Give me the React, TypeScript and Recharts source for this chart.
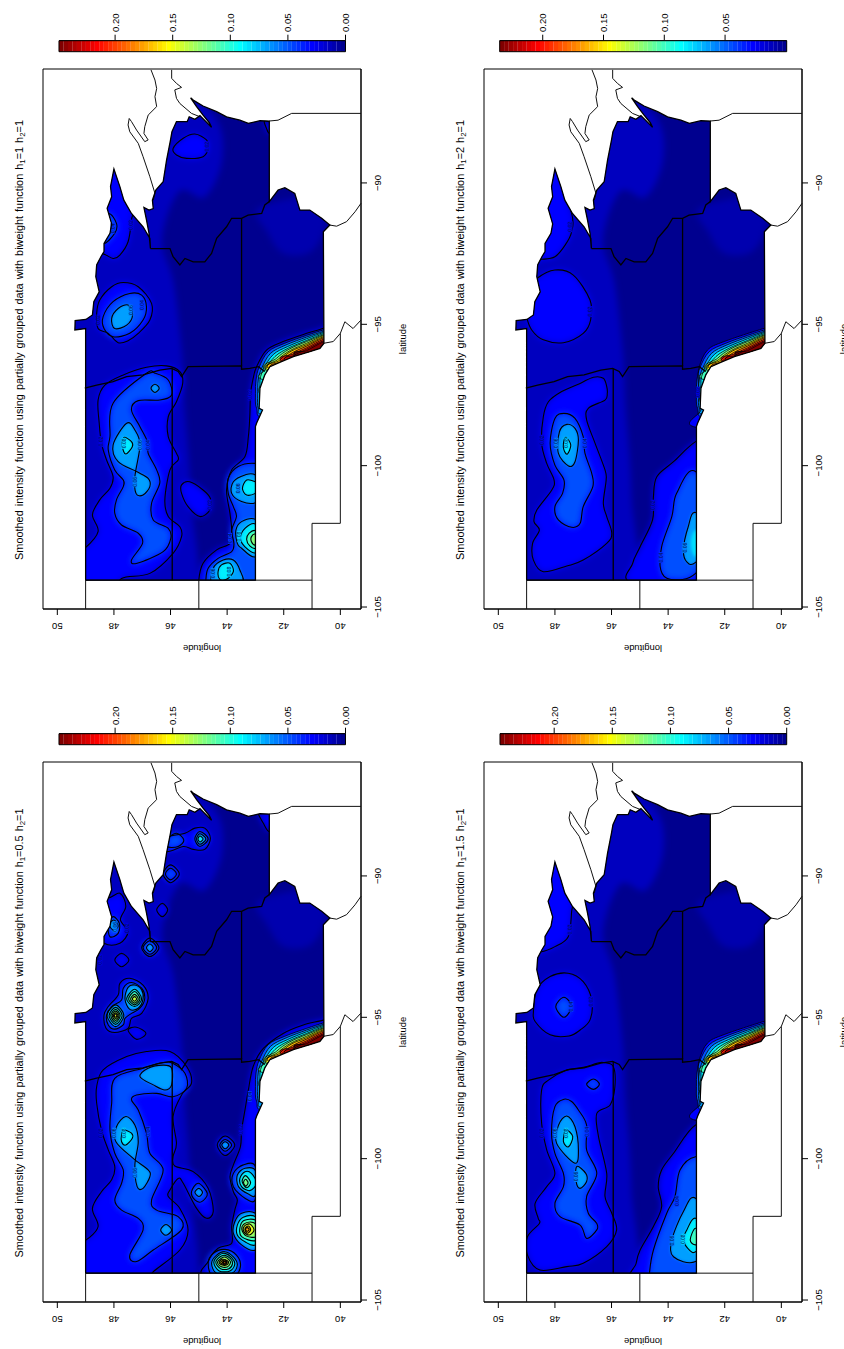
import { ScatterChart, Scatter, XAxis, YAxis, ReferenceArea } from 'recharts'

type Pt = [number, number] // lon, lat
type Contour = { level: number; pts: Pt[]; fillOnly?: boolean }
type CLabel = { lon: number; lat: number; text: string; level: number }

const LAT_TICKS = [50, 48, 46, 44, 42, 40]
const LON_TICKS = [-105, -100, -95, -90]
const LAT_DOMAIN = [39.27, 50.506]
const LON_DOMAIN = [-105.07, -85.97]

const COLORS = [
  '#00008F', '#00009F', '#0000AF', '#0000BF', '#0000CF', '#0000DF', '#0000EF', '#0000FF',
  '#0010FF', '#0020FF', '#0030FF', '#0040FF', '#0050FF', '#0060FF', '#0070FF', '#0080FF',
  '#008FFF', '#009FFF', '#00AFFF', '#00BFFF', '#00CFFF', '#00DFFF', '#00EFFF', '#00FFFF',
  '#10FFEF', '#20FFDF', '#30FFCF', '#40FFBF', '#50FFAF', '#60FF9F', '#70FF8F', '#80FF80',
  '#8FFF70', '#9FFF60', '#AFFF50', '#BFFF40', '#CFFF30', '#DFFF20', '#EFFF10', '#FFFF00',
  '#FFEF00', '#FFDF00', '#FFCF00', '#FFBF00', '#FFAF00', '#FF9F00', '#FF8F00', '#FF8000',
  '#FF7000', '#FF6000', '#FF5000', '#FF4000', '#FF3000', '#FF2000', '#FF1000', '#FF0000',
  '#EF0000', '#DF0000', '#CF0000', '#BF0000', '#AF0000', '#9F0000', '#8F0000', '#800000',
]

// study area outline
const REGION: Pt[] = [
  [-104.05, 49], [-95.15, 49], [-95.2, 49.38], [-94.87, 49.37], [-94.83, 48.99], [-94.67, 48.76], [-94.2, 48.71],
  [-93.85, 48.52], [-93.32, 48.64], [-92.9, 48.61], [-92.61, 48.46], [-92.43, 48.35], [-92.14, 48.35], [-91.78, 48.14],
  [-91.45, 48.08], [-90.9, 48.24], [-90.49, 48.08], [-90.13, 48.12], [-89.51, 48.0], [-90.13, 47.79], [-90.61, 47.65],
  [-91.08, 47.38], [-91.55, 46.97], [-91.96, 46.73], [-92.32, 46.71], [-91.78, 46.76], [-91.31, 46.85], [-90.87, 46.94],
  [-90.96, 46.76], [-90.91, 46.61], [-90.61, 46.64], [-90.25, 46.52], [-89.96, 46.26], [-89.19, 46.14], [-88.48, 46.0],
  [-88.19, 45.95], [-87.83, 45.79], [-87.83, 45.41], [-87.66, 45.34], [-87.75, 45.14], [-87.62, 44.96], [-88.03, 44.55],
  [-87.87, 44.63], [-87.6, 44.85], [-87.3, 45.08], [-86.99, 45.29], [-87.07, 45.2], [-87.28, 44.85], [-87.48, 44.37],
  [-87.66, 44.02], [-87.78, 43.55], [-87.89, 43.25],
  [-87.8, 42.84], [-87.81, 42.51], [-90.66, 42.51], [-90.25, 42.2], [-90.17, 41.96], [-90.37, 41.61], [-90.96, 41.43],
  [-90.96, 41.08], [-91.25, 40.66], [-91.49, 40.37], [-91.73, 40.6], [-95.67, 40.58], [-95.85, 40.72], [-95.97, 41.08],
  [-96.14, 41.66], [-96.32, 42.08], [-96.5, 42.49], [-96.79, 42.67], [-97.26, 42.84], [-97.97, 42.87], [-98.03, 42.75],
  [-98.5, 42.96], [-98.62, 43.0], [-104.05, 43.0], [-104.05, 49],
]

// state borders inside the area
const BORDER_MN_W: Pt[] = [
  [-97.26, 49.03], [-97.15, 48.61], [-97.03, 48.03], [-96.85, 47.55], [-96.79, 46.97], [-96.62, 46.38], [-96.56, 45.96],
  [-96.67, 45.73], [-96.85, 45.61], [-96.5, 45.38], [-96.47, 43.49], [-96.59, 43.49], [-96.56, 43.2], [-96.5, 42.9], [-96.67, 42.67],
]
const BORDER_ND_SD: Pt[] = [[-104.05, 45.94], [-96.56, 45.94]]
const BORDER_MN_IA: Pt[] = [[-96.47, 43.49], [-91.25, 43.49]]
const BORDER_MN_WI: Pt[] = [
  [-92.32, 46.71], [-92.32, 46.02], [-92.61, 45.91], [-92.9, 45.67], [-92.67, 45.49], [-92.79, 45.2], [-92.79, 44.79],
  [-92.49, 44.55], [-91.96, 44.37], [-91.55, 44.02], [-91.25, 43.84], [-91.25, 43.49], [-91.14, 43.26], [-91.08, 42.78],
  [-90.78, 42.67], [-90.66, 42.51],
]

// thin lines outside the area
const LINE_SUPERIOR: Pt[] = [
  [-86.0, 46.69], [-86.36, 46.55], [-86.66, 46.49], [-86.95, 46.55], [-87.3, 46.49], [-87.6, 46.79], [-88.01, 46.91],
  [-88.25, 46.94], [-88.48, 46.79], [-88.54, 46.91], [-88.13, 47.2], [-87.83, 47.38], [-87.72, 47.46], [-87.95, 47.5],
  [-88.19, 47.44], [-88.6, 47.14], [-89.07, 46.97], [-89.78, 46.73], [-90.37, 46.55], [-90.61, 46.61],
]
const LINE_UP: Pt[] = [
  [-86.0, 45.96], [-86.3, 45.96], [-86.48, 45.79], [-86.62, 45.61], [-86.71, 45.85], [-87.01, 45.79], [-87.19, 45.67],
  [-87.54, 45.26], [-87.66, 44.96],
]
const LINE_IL: Pt[] = [[-87.81, 42.51], [-87.78, 42.2], [-87.54, 41.72], [-87.54, 39.27]]
const LINE_MO_E: Pt[] = [[-91.49, 40.37], [-91.53, 40.13], [-91.37, 39.78], [-91.02, 39.48], [-90.72, 39.27]]
const LINE_MO_W: Pt[] = [[-95.67, 40.58], [-95.61, 40.25], [-95.32, 40.0], [-94.91, 39.84], [-95.15, 39.55], [-94.85, 39.27]]
const LINE_LAT40: Pt[] = [[-95.32, 40.0], [-102.04, 40.0], [-102.04, 41.0], [-105.07, 41.0]]
const LINE_LON104: Pt[] = [[-104.05, 49], [-104.05, 41]]
const LINE_LAT45: Pt[] = [[-104.05, 45], [-105.07, 45]]
const LINE_LAT49: Pt[] = [[-104.05, 49], [-105.07, 49]]
const THIN_LINES = [LINE_SUPERIOR, LINE_UP, LINE_IL, LINE_MO_E, LINE_MO_W, LINE_LAT40, LINE_LON104, LINE_LAT45, LINE_LAT49]
const STATE_LINES = [BORDER_MN_W, BORDER_ND_SD, BORDER_MN_IA, BORDER_MN_WI]

// soft background shading, no line
const HALO_N: Contour = {
  level: 0.007, fillOnly: true,
  pts: [[-105, 50], [-105, 45.4], [-101, 45.3], [-98, 45.5], [-96, 45.6], [-93.5, 45.9], [-92, 46.3], [-90.3, 45.7], [-90.5, 44.8],
    [-89.3, 44.2], [-87.9, 44.3], [-87, 45.3], [-87, 47], [-89, 50]],
}
const HALO_IA: Contour = {
  level: 0.003, fillOnly: true,
  pts: [[-90.9, 42.9], [-91.7, 42.6], [-92.5, 42], [-92.4, 41], [-91.3, 40.5], [-90.5, 41]],
}

// steep ridge along the Missouri, the same in all panels
const RIVER_02: Contour = {
  level: 0.02,
  pts: [[-95.14, 40.6], [-95.61, 42.02], [-95.91, 42.61], [-96.5, 42.9], [-96.97, 42.93], [-97.56, 42.9], [-98.03, 42.84], [-98.62, 43.1],
    [-98.74, 40.25], [-94.85, 39.54]],
}
const OUT_A: Pt = [-97.56, 40.25]
const OUT_B: Pt = [-94.85, 39.54]
const RIVER_BANDS: Contour[] = [
  { level: 0.04, pts: [[-95.11, 40.25], [-95.2, 40.6], [-95.39, 41.19], [-95.67, 41.96], [-95.97, 42.55], [-96.52, 42.87], [-96.97, 42.98], [-97.44, 43.0], [-97.97, 42.96], [-98.27, 42.61], OUT_A, OUT_B] },
  { level: 0.06, pts: [[-95.14, 40.25], [-95.25, 40.6], [-95.45, 41.19], [-95.73, 41.92], [-96.03, 42.47], [-96.56, 42.78], [-96.97, 42.9], [-97.5, 42.92], [-97.97, 42.9], [-98.15, 42.61], OUT_A, OUT_B] },
  { level: 0.08, pts: [[-95.2, 40.25], [-95.29, 40.6], [-95.51, 41.19], [-95.79, 41.87], [-96.07, 42.37], [-96.59, 42.72], [-97.09, 42.84], [-97.56, 42.61], OUT_A, OUT_B] },
  { level: 0.1, pts: [[-95.24, 40.25], [-95.33, 40.6], [-95.57, 41.19], [-95.84, 41.83], [-96.14, 42.31], [-96.62, 42.67], [-96.97, 42.72], OUT_A, OUT_B] },
  { level: 0.12, pts: [[-95.27, 40.25], [-95.37, 40.6], [-95.61, 41.19], [-95.88, 41.81], [-96.2, 42.25], [-96.64, 42.61], OUT_A, OUT_B] },
  { level: 0.14, pts: [[-95.31, 40.25], [-95.4, 40.6], [-95.67, 41.19], [-95.92, 41.76], [-96.24, 42.2], [-96.64, 42.54], OUT_A, OUT_B] },
  { level: 0.16, pts: [[-95.34, 40.25], [-95.44, 40.6], [-95.72, 41.19], [-95.95, 41.74], [-96.28, 42.16], [-96.59, 42.49], OUT_A, OUT_B] },
  { level: 0.18, pts: [[-95.39, 40.25], [-95.48, 40.6], [-95.77, 41.19], [-96.0, 41.69], [-96.32, 42.11], [-96.59, 42.37], OUT_A, OUT_B] },
  { level: 0.2, pts: [[-95.44, 40.25], [-95.53, 40.6], [-95.83, 41.19], [-96.05, 41.66], [-96.33, 42.07], OUT_A, OUT_B] },
  { level: 0.22, pts: [[-95.48, 40.25], [-95.58, 40.6], [-95.88, 41.19], [-96.1, 41.64], [-96.33, 41.9], OUT_A, OUT_B] },
  { level: 0.24, pts: [[-95.53, 40.25], [-95.62, 40.6], [-95.93, 41.19], [-96.14, 41.61], OUT_A, OUT_B] },
]

// h1=1
const CONTOURS_H1: Contour[] = [
  { level: 0.02, pts: [[-102.92, 49.03], [-102.33, 48.56], [-101.74, 48.76], [-101.21, 48.5], [-100.8, 48.14], [-100.39, 48.03], [-99.8, 48.26], [-99.21, 48.44], [-98.5, 48.52], [-97.68, 48.56], [-97.15, 48.32], [-96.79, 47.67], [-96.52, 46.85], [-96.47, 46.14], [-96.67, 45.67], [-97.09, 45.57], [-97.74, 45.79], [-98.27, 46.08], [-98.97, 46.08], [-99.56, 45.79], [-99.8, 45.73], [-100.15, 46.02], [-101.21, 46.2], [-101.8, 46.08], [-102.16, 45.67], [-102.51, 45.61], [-103.1, 45.91], [-103.81, 46.73], [-103.99, 47.73], [-104.52, 48.03], [-104.52, 49.32], [-103.0, 49.32]] },
  { level: 0.02, pts: [[-100.68, 45.61], [-100.57, 45.32], [-100.86, 44.85], [-101.16, 44.59], [-101.57, 44.61], [-101.8, 44.96], [-101.45, 45.38], [-100.98, 45.61]] },
  { level: 0.02, pts: [[-95.14, 40.6], [-95.32, 41.19], [-95.61, 42.02], [-95.91, 42.61], [-96.5, 42.96], [-96.91, 43.08], [-97.44, 43.17], [-98.27, 43.2], [-98.97, 43.25], [-99.68, 43.37], [-100.15, 43.84], [-100.86, 44.02], [-101.69, 43.9], [-102.28, 43.84], [-102.75, 43.9], [-102.98, 44.37], [-103.45, 44.85], [-104.04, 45.0], [-104.63, 44.96], [-104.63, 42.02], [-99.92, 39.66], [-94.96, 39.66], [-94.9, 40.25]] },
  { level: 0.02, pts: [[-94.14, 48.5], [-93.67, 48.08], [-93.52, 47.67], [-93.67, 47.14], [-94.26, 46.67], [-94.85, 46.73], [-95.32, 47.14], [-95.58, 47.5], [-95.65, 47.85], [-95.32, 48.2], [-95.15, 48.56], [-94.62, 48.61]] },
  { level: 0.02, pts: [[-91.31, 47.38], [-92.08, 47.5], [-92.55, 47.79], [-92.67, 48.03], [-92.49, 48.44], [-92.49, 49.08], [-89.43, 49.08], [-89.43, 48.03], [-90.84, 47.38]] },
  { level: 0.02, pts: [[-88.78, 45.91], [-88.42, 45.55], [-88.27, 45.14], [-88.48, 44.73], [-88.78, 44.67], [-89.07, 44.85], [-89.13, 45.43], [-89.01, 45.79]] },
  { level: 0.02, pts: [[-87.8, 42.67], [-88.07, 42.61], [-88.25, 42.49], [-88.0, 42.25]] },
  { level: 0.04, pts: [[-96.73, 46.85], [-97.79, 48.03], [-98.97, 48.14], [-99.45, 48.2], [-100.15, 47.97], [-100.51, 47.67], [-100.74, 47.67], [-101.21, 47.91], [-101.69, 47.97], [-102.1, 47.73], [-102.39, 47.14], [-102.75, 46.99], [-103.34, 47.38], [-103.45, 47.18], [-103.04, 46.26], [-102.57, 45.99], [-102.22, 46.08], [-101.92, 46.61], [-101.33, 46.67], [-100.62, 46.38], [-100.15, 46.49], [-99.56, 46.79], [-99.21, 46.79], [-98.62, 47.08], [-98.03, 47.38], [-97.7, 47.14], [-97.68, 46.38], [-97.5, 45.96], [-96.97, 46.08], [-96.73, 46.55]] },
  { level: 0.04, pts: [[-104.04, 44.75], [-103.63, 44.67], [-103.28, 44.32], [-103.04, 43.84], [-102.75, 43.76], [-102.28, 43.84], [-101.8, 43.67], [-101.45, 43.78], [-100.98, 43.96], [-100.45, 43.96], [-100.03, 43.61], [-99.92, 43.0], [-100.15, 42.25], [-104.63, 42.25], [-104.63, 44.73]] },
  { level: 0.04, pts: [[-94.73, 48.38], [-94.2, 48.03], [-93.91, 47.44], [-93.97, 47.02], [-94.38, 46.85], [-94.85, 46.97], [-95.32, 47.44], [-95.44, 48.03], [-95.15, 48.35]] },
  { level: 0.04, pts: [[-91.78, 47.97], [-91.43, 47.91], [-91.08, 48.2], [-91.55, 48.61], [-92.14, 48.38]] },
  { level: 0.06, pts: [[-98.5, 47.55], [-99.27, 48.03], [-99.86, 47.85], [-100.21, 47.2], [-100.45, 46.79], [-100.74, 46.73], [-101.04, 46.97], [-100.98, 47.22], [-100.39, 47.26], [-99.27, 47.08], [-98.74, 47.26]] },
  { level: 0.06, pts: [[-97.26, 46.69], [-97.12, 46.55], [-97.26, 46.4], [-97.41, 46.55]] },
  { level: 0.06, pts: [[-100.33, 43.0], [-100.33, 43.37], [-100.57, 43.78], [-100.98, 43.84], [-101.27, 43.49], [-101.31, 43.0], [-100.86, 42.49]] },
  { level: 0.06, pts: [[-101.9, 43.0], [-101.98, 43.49], [-102.28, 43.69], [-102.75, 43.64], [-102.92, 43.49], [-103.22, 43.0], [-102.51, 42.49]] },
  { level: 0.06, pts: [[-103.63, 44.49], [-103.34, 44.14], [-103.34, 43.78], [-103.69, 43.55], [-104.16, 43.49], [-104.28, 44.49]] },
  { level: 0.06, pts: [[-94.79, 48.08], [-94.44, 47.85], [-94.32, 47.5], [-94.67, 47.34], [-95.03, 47.55], [-95.15, 47.97]] },
  { level: 0.08, pts: [[-99.0, 47.65], [-99.15, 47.38], [-99.33, 47.35], [-99.59, 47.58], [-99.33, 47.7]] },
  { level: 0.08, pts: [[-100.57, 43.0], [-100.51, 43.31], [-100.8, 43.46], [-101.04, 43.31], [-100.98, 43.0], [-100.74, 42.72]] },
  { level: 0.08, pts: [[-102.06, 43.0], [-102.22, 43.37], [-102.57, 43.53], [-102.87, 43.37], [-103.08, 43.0], [-102.57, 42.61]] },
  { level: 0.08, pts: [[-103.75, 44.32], [-103.51, 44.2], [-103.45, 43.9], [-103.75, 43.78], [-104.02, 44.02], [-104.02, 44.26]] },
  { level: 0.1, pts: [[-102.3, 43.0], [-102.39, 43.22], [-102.61, 43.31], [-102.84, 43.2], [-102.92, 43.0], [-102.63, 42.72]] },
  { level: 0.12, pts: [[-102.42, 43.0], [-102.51, 43.14], [-102.69, 43.14], [-102.81, 43.0], [-102.63, 42.78]] },
]
const LABELS_H1: CLabel[] = [
  { lon: -99.15, lat: 48.46, text: '0.02', level: 0.02 }, { lon: -99.27, lat: 46.79, text: '0.04', level: 0.04 },
  { lon: -99.27, lat: 47.08, text: '0.06', level: 0.06 }, { lon: -99.21, lat: 47.65, text: '0.08', level: 0.08 },
  { lon: -100.57, lat: 47.26, text: '0.06', level: 0.06 }, { lon: -101.39, lat: 44.61, text: '0.02', level: 0.02 },
  { lon: -100.8, lat: 43.61, text: '0.06', level: 0.06 }, { lon: -102.57, lat: 43.9, text: '0.04', level: 0.04 },
  { lon: -102.51, lat: 43.57, text: '0.08', level: 0.08 }, { lon: -103.75, lat: 43.93, text: '0.08', level: 0.08 },
  { lon: -103.81, lat: 44.51, text: '0.06', level: 0.06 }, { lon: -94.85, lat: 48.55, text: '0.02', level: 0.02 },
  { lon: -94.32, lat: 47.02, text: '0.04', level: 0.04 }, { lon: -94.5, lat: 47.41, text: '0.06', level: 0.06 },
  { lon: -91.49, lat: 47.38, text: '0.02', level: 0.02 }, { lon: -91.61, lat: 48.05, text: '0.04', level: 0.04 },
  { lon: -88.72, lat: 44.7, text: '0.02', level: 0.02 }, { lon: -97.5, lat: 43.2, text: '0.02', level: 0.02 },
]

// h1=2
const CONTOURS_H2: Contour[] = [
  { level: 0.035, fillOnly: true, pts: [[-94.03, 47.76], [-94.5, 47.23], [-95.03, 47.76], [-94.5, 48.29]] },
  { level: 0.02, pts: [[-97.2, 46.17], [-96.91, 46.29], [-96.87, 46.64], [-97.09, 47.11], [-97.38, 47.76], [-97.74, 48.23], [-98.27, 48.41], [-99.21, 48.47], [-99.92, 48.29], [-100.51, 48.03], [-100.86, 48.11], [-101.57, 48.64], [-101.98, 48.74], [-102.28, 48.55], [-102.75, 48.79], [-103.34, 48.76], [-103.75, 48.41], [-103.55, 47.58], [-103.34, 47.0], [-102.75, 46.17], [-102.39, 45.99], [-101.8, 46.17], [-101.33, 46.29], [-100.51, 46.19], [-100.15, 46.23], [-99.21, 46.58], [-98.38, 46.88], [-97.97, 46.82], [-97.68, 46.23], [-97.44, 46.15]] },
  { level: 0.02, pts: [[-99.15, 43.03], [-99.86, 43.81], [-100.39, 44.4], [-101.1, 44.52], [-101.92, 44.55], [-102.87, 44.99], [-103.45, 45.25], [-104.16, 45.25], [-104.4, 42.05], [-98.74, 42.05]] },
  { level: 0.02, pts: [[-93.38, 48.64], [-93.08, 48.0], [-93.26, 47.35], [-94.14, 46.76], [-94.85, 46.74], [-95.32, 47.0], [-95.65, 47.7], [-95.55, 48.41], [-95.2, 48.82], [-94.73, 49.0], [-93.91, 49.1]] },
  { level: 0.02, pts: [[-91.73, 47.41], [-92.2, 47.64], [-92.61, 48.0], [-92.7, 48.47], [-92.7, 49.1], [-89.43, 49.1], [-89.43, 48.05], [-91.08, 47.41]] },
  { level: 0.04, pts: [[-98.15, 47.68], [-98.33, 48.0], [-99.21, 48.17], [-99.98, 48.0], [-100.51, 47.68], [-100.98, 47.73], [-101.45, 48.0], [-101.92, 47.88], [-102.18, 47.41], [-102.04, 47.11], [-101.45, 47.0], [-100.74, 46.66], [-100.27, 46.7], [-99.56, 46.94], [-98.97, 47.0], [-98.33, 47.29]] },
  { level: 0.04, pts: [[-100.21, 43.03], [-100.98, 43.7], [-101.8, 43.87], [-102.87, 44.23], [-103.69, 44.26], [-104.02, 43.93], [-103.81, 43.03], [-102.28, 42.05]] },
  { level: 0.06, pts: [[-98.54, 47.58], [-98.8, 47.84], [-99.56, 47.88], [-100.01, 47.52], [-99.86, 47.29], [-99.09, 47.17], [-98.68, 47.29]] },
  { level: 0.06, pts: [[-101.66, 43.03], [-102.16, 43.29], [-102.98, 43.46], [-103.4, 43.34], [-103.42, 43.03], [-102.51, 42.28]] },
  { level: 0.075, fillOnly: true, pts: [[-102.28, 43.03], [-102.75, 43.2], [-103.22, 43.03], [-102.75, 42.63]] },
  { level: 0.08, pts: [[-99.0, 47.61], [-99.27, 47.44], [-99.59, 47.56], [-99.45, 47.68], [-99.21, 47.7]] },
]
const LABELS_H2: CLabel[] = [
  { lon: -99.1, lat: 48.45, text: '0.02', level: 0.02 }, { lon: -99.21, lat: 47.95, text: '0.06', level: 0.06 },
  { lon: -99.2, lat: 47.6, text: '0.08', level: 0.08 }, { lon: -99.21, lat: 46.95, text: '0.04', level: 0.04 },
  { lon: -101.4, lat: 44.54, text: '0.02', level: 0.02 }, { lon: -103.25, lat: 44.25, text: '0.04', level: 0.04 },
  { lon: -102.9, lat: 43.42, text: '0.06', level: 0.06 }, { lon: -94.55, lat: 46.75, text: '0.02', level: 0.02 },
  { lon: -91.55, lat: 47.45, text: '0.02', level: 0.02 }, { lon: -97.4, lat: 42.95, text: '0.02', level: 0.02 },
]

// h1=0.5
const CONTOURS_H05: Contour[] = [
  { level: 0.02, pts: [[-102.88, 48.99], [-102.4, 48.56], [-101.76, 48.76], [-101.17, 48.44], [-100.75, 48.08], [-100.28, 47.97], [-99.69, 48.2], [-98.99, 48.44], [-98.04, 48.61], [-97.45, 48.61], [-96.86, 48.38], [-96.39, 47.55], [-96.21, 46.85], [-96.21, 46.02], [-96.74, 45.43], [-97.33, 45.26], [-97.75, 45.61], [-98.51, 45.91], [-99.46, 45.79], [-99.93, 45.91], [-100.26, 45.85], [-100.46, 45.2], [-101.05, 44.67], [-101.87, 44.49], [-102.11, 44.73], [-101.76, 45.08], [-100.87, 45.55], [-100.7, 45.73], [-101.11, 46.02], [-101.34, 46.08], [-101.76, 45.67], [-102.52, 45.38], [-103.23, 45.67], [-104.0, 46.61], [-104.29, 46.85], [-104.29, 49.32], [-102.88, 49.32]] },
  { level: 0.02, pts: [[-95.09, 40.58], [-95.27, 41.31], [-95.57, 42.02], [-96.1, 42.72], [-96.74, 43.08], [-97.57, 43.25], [-98.28, 43.37], [-98.99, 43.49], [-99.57, 43.53], [-100.22, 43.78], [-100.64, 43.9], [-101.17, 43.78], [-101.46, 43.64], [-101.82, 43.73], [-102.4, 43.84], [-102.99, 43.84], [-103.17, 44.32], [-103.64, 44.67], [-104.17, 44.73], [-104.41, 42.02], [-99.92, 39.66], [-94.96, 39.66], [-94.9, 40.25]] },
  { level: 0.02, pts: [[-99.52, 44.35], [-99.2, 44.07], [-99.52, 43.73], [-99.89, 44.07]] },
  { level: 0.02, pts: [[-94.92, 48.35], [-94.62, 48.2], [-94.21, 47.85], [-93.8, 47.79], [-93.62, 47.44], [-93.86, 46.97], [-94.33, 46.79], [-94.86, 47.02], [-95.04, 47.38], [-95.39, 47.5], [-95.54, 47.97], [-95.39, 48.28]] },
  { level: 0.02, pts: [[-92.97, 47.97], [-92.74, 47.73], [-92.97, 47.47], [-93.21, 47.73]] },
  { level: 0.02, pts: [[-95.45, 47.5], [-95.35, 47.2], [-95.57, 46.87], [-95.78, 47.2]] },
  { level: 0.02, pts: [[-92.54, 47.02], [-92.2, 46.73], [-92.54, 46.41], [-92.85, 46.73]] },
  { level: 0.02, pts: [[-90.79, 48.24], [-90.61, 47.79], [-91.07, 47.58], [-91.55, 47.77], [-91.97, 47.5], [-92.38, 47.79], [-92.38, 48.35], [-91.67, 49.08], [-90.73, 49.08]] },
  { level: 0.02, pts: [[-88.61, 46.08], [-88.49, 45.49], [-88.31, 45.14], [-88.31, 44.79], [-88.67, 44.59], [-89.06, 44.79], [-89.06, 45.2], [-88.96, 45.55], [-89.14, 46.14], [-88.84, 46.49]] },
  { level: 0.02, pts: [[-89.93, 46.26], [-89.61, 46.0], [-89.93, 45.69], [-90.24, 46.0]] },
  { level: 0.02, pts: [[-91.2, 46.49], [-90.97, 46.29], [-91.2, 46.1], [-91.44, 46.29]] },
  { level: 0.02, pts: [[-87.69, 42.9], [-88.14, 42.72], [-88.43, 42.49], [-87.9, 42.25]] },
  { level: 0.04, pts: [[-96.8, 46.97], [-97.16, 47.97], [-98.04, 48.08], [-98.99, 48.14], [-99.81, 47.97], [-100.4, 47.67], [-100.87, 47.73], [-101.46, 47.97], [-101.82, 47.73], [-102.11, 47.14], [-102.52, 46.97], [-103.41, 47.44], [-103.64, 47.2], [-103.23, 46.61], [-102.52, 45.61], [-102.05, 45.73], [-101.82, 46.49], [-101.46, 46.67], [-100.4, 46.26], [-99.81, 46.73], [-99.1, 46.85], [-98.28, 47.14], [-97.92, 47.38], [-97.75, 47.2], [-97.69, 46.49], [-97.81, 45.91], [-97.51, 45.43], [-96.98, 45.49], [-96.63, 45.91], [-96.6, 46.26]] },
  { level: 0.04, pts: [[-101.17, 45.26], [-100.87, 45.02], [-101.23, 44.7], [-101.52, 44.9], [-101.46, 45.14]] },
  { level: 0.04, pts: [[-99.52, 44.26], [-99.32, 44.07], [-99.52, 43.84], [-99.74, 44.07]] },
  { level: 0.04, pts: [[-100.28, 43.0], [-100.22, 43.43], [-100.52, 43.78], [-100.99, 43.78], [-101.4, 43.37], [-101.44, 43.0]] },
  { level: 0.04, pts: [[-103.7, 44.67], [-103.35, 44.49], [-103.21, 44.08], [-103.41, 43.67], [-103.82, 43.53], [-104.17, 43.78], [-104.17, 44.49]] },
  { level: 0.04, pts: [[-94.92, 48.26], [-94.62, 48.08], [-94.39, 47.73], [-93.97, 47.67], [-93.77, 47.38], [-93.97, 47.02], [-94.33, 46.91], [-94.68, 47.08], [-94.86, 47.38], [-95.04, 47.61], [-95.27, 47.67], [-95.42, 47.97], [-95.27, 48.2]] },
  { level: 0.04, pts: [[-92.54, 46.97], [-92.29, 46.73], [-92.54, 46.49], [-92.77, 46.73]] },
  { level: 0.04, pts: [[-91.73, 48.2], [-91.44, 48.03], [-91.67, 47.81], [-92.03, 47.85], [-92.15, 48.14]] },
  { level: 0.04, pts: [[-88.69, 45.14], [-88.43, 44.96], [-88.69, 44.67], [-88.96, 44.96]] },
  { level: 0.04, pts: [[-88.67, 46.08], [-88.49, 45.79], [-88.73, 45.53], [-88.96, 45.73], [-88.96, 46.14]] },
  { level: 0.04, pts: [[-89.93, 46.18], [-89.73, 46.0], [-89.93, 45.79], [-90.14, 46.0]] },
  { level: 0.06, pts: [[-98.51, 47.58], [-98.87, 47.91], [-99.4, 47.93], [-99.99, 47.32], [-100.4, 46.79], [-100.64, 46.73], [-101.05, 46.97], [-100.99, 47.18], [-100.22, 47.26], [-99.4, 47.14], [-98.81, 47.26]] },
  { level: 0.06, pts: [[-97.1, 47.08], [-96.8, 46.79], [-96.69, 46.26], [-96.8, 45.96], [-97.39, 45.96], [-97.57, 46.2], [-97.39, 46.61]] },
  { level: 0.06, pts: [[-102.52, 46.35], [-102.33, 46.16], [-102.52, 45.96], [-102.71, 46.16]] },
  { level: 0.06, pts: [[-101.19, 45.14], [-101.05, 45.0], [-101.2, 44.87], [-101.34, 45.0]] },
  { level: 0.06, pts: [[-99.52, 44.19], [-99.4, 44.07], [-99.52, 43.94], [-99.65, 44.07]] },
  { level: 0.06, pts: [[-100.43, 43.0], [-100.34, 43.37], [-100.58, 43.64], [-100.99, 43.6], [-101.25, 43.25], [-101.28, 43.0]] },
  { level: 0.06, pts: [[-101.93, 43.0], [-101.93, 43.49], [-102.23, 43.73], [-102.64, 43.78], [-103.05, 43.49], [-103.23, 43.0], [-102.52, 42.49]] },
  { level: 0.06, pts: [[-103.7, 44.55], [-103.41, 44.37], [-103.29, 44.08], [-103.47, 43.78], [-103.76, 43.64], [-104.06, 43.84], [-104.06, 44.37]] },
  { level: 0.06, pts: [[-94.35, 47.61], [-93.94, 47.5], [-93.86, 47.26], [-94.03, 47.02], [-94.35, 46.97], [-94.68, 47.14], [-94.72, 47.44]] },
  { level: 0.06, pts: [[-94.94, 48.24], [-94.56, 47.94], [-94.94, 47.65], [-95.33, 47.94]] },
  { level: 0.06, pts: [[-92.54, 46.85], [-92.41, 46.73], [-92.54, 46.61], [-92.68, 46.73]] },
  { level: 0.06, pts: [[-91.73, 48.17], [-91.56, 48.0], [-91.77, 47.85], [-91.93, 48.0]] },
  { level: 0.06, pts: [[-88.69, 45.08], [-88.51, 44.96], [-88.69, 44.75], [-88.88, 44.96]] },
  { level: 0.08, pts: [[-98.99, 47.65], [-99.1, 47.38], [-99.28, 47.35], [-99.52, 47.58], [-99.4, 47.73], [-99.16, 47.73]] },
  { level: 0.08, pts: [[-100.46, 43.37], [-100.7, 43.55], [-100.99, 43.49], [-101.13, 43.2], [-100.87, 42.96], [-100.52, 43.14]] },
  { level: 0.08, pts: [[-102.05, 43.0], [-102.07, 43.43], [-102.35, 43.64], [-102.7, 43.64], [-102.94, 43.37], [-103.05, 43.0], [-102.52, 42.61]] },
  { level: 0.08, pts: [[-103.68, 44.47], [-103.44, 44.32], [-103.35, 44.08], [-103.5, 43.84], [-103.73, 43.73], [-103.97, 43.9], [-103.97, 44.28]] },
  { level: 0.08, pts: [[-94.35, 47.55], [-94.01, 47.27], [-94.35, 47.02], [-94.62, 47.27]] },
  { level: 0.08, pts: [[-94.94, 48.17], [-94.65, 47.94], [-94.94, 47.71], [-95.25, 47.94]] },
  { level: 0.08, pts: [[-88.69, 45.03], [-88.59, 44.96], [-88.69, 44.85], [-88.8, 44.96]] },
  { level: 0.1, fillOnly: true, pts: [[-88.69, 45.0], [-88.63, 44.96], [-88.69, 44.9], [-88.75, 44.96]] },
  { level: 0.1, pts: [[-100.6, 43.35], [-100.81, 43.47], [-101.03, 43.31], [-100.84, 43.17]] },
  { level: 0.1, pts: [[-102.17, 43.0], [-102.19, 43.41], [-102.46, 43.55], [-102.76, 43.49], [-102.9, 43.0], [-102.52, 42.72]] },
  { level: 0.1, pts: [[-103.67, 44.4], [-103.48, 44.26], [-103.42, 44.08], [-103.54, 43.88], [-103.71, 43.81], [-103.89, 43.94], [-103.89, 44.23]] },
  { level: 0.1, pts: [[-94.35, 47.48], [-94.09, 47.27], [-94.35, 47.08], [-94.56, 47.27]] },
  { level: 0.1, pts: [[-94.94, 48.11], [-94.72, 47.94], [-94.94, 47.78], [-95.18, 47.94]] },
  { level: 0.12, pts: [[-100.73, 43.35], [-100.85, 43.42], [-100.97, 43.34], [-100.85, 43.26]] },
  { level: 0.12, pts: [[-102.26, 43.08], [-102.29, 43.37], [-102.5, 43.48], [-102.74, 43.31], [-102.76, 42.96], [-102.46, 42.9]] },
  { level: 0.12, pts: [[-103.67, 44.34], [-103.52, 44.2], [-103.48, 44.08], [-103.58, 43.93], [-103.68, 43.88], [-103.82, 43.98], [-103.82, 44.2]] },
  { level: 0.12, pts: [[-94.35, 47.41], [-94.19, 47.27], [-94.35, 47.14], [-94.5, 47.27]] },
  { level: 0.12, pts: [[-94.94, 48.06], [-94.78, 47.94], [-94.94, 47.82], [-95.11, 47.94]] },
  { level: 0.14, pts: [[-102.31, 43.2], [-102.4, 43.4], [-102.58, 43.41], [-102.7, 43.22], [-102.52, 43.05]] },
  { level: 0.14, pts: [[-103.67, 44.28], [-103.56, 44.17], [-103.61, 43.99], [-103.68, 43.95], [-103.76, 44.02], [-103.76, 44.17]] },
  { level: 0.14, pts: [[-94.35, 47.35], [-94.27, 47.27], [-94.35, 47.2], [-94.43, 47.27]] },
  { level: 0.14, pts: [[-94.94, 48.02], [-94.84, 47.94], [-94.94, 47.86], [-95.05, 47.94]] },
  { level: 0.16, pts: [[-102.38, 43.25], [-102.49, 43.37], [-102.64, 43.29], [-102.52, 43.17]] },
  { level: 0.16, pts: [[-103.67, 44.23], [-103.58, 44.08], [-103.67, 44.0], [-103.76, 44.08]] },
  { level: 0.16, pts: [[-94.94, 47.99], [-94.88, 47.94], [-94.94, 47.9], [-95.0, 47.94]] },
  { level: 0.18, pts: [[-102.44, 43.29], [-102.5, 43.35], [-102.57, 43.29], [-102.5, 43.22]] },
  { level: 0.18, pts: [[-103.67, 44.17], [-103.62, 44.08], [-103.67, 44.02], [-103.73, 44.08]] },
  { level: 0.2, pts: [[-103.67, 44.14], [-103.64, 44.08], [-103.67, 44.04], [-103.7, 44.08]] },
]
const LABELS_H05: CLabel[] = [
  { lon: -99.1, lat: 48.46, text: '0.02', level: 0.02 }, { lon: -99.05, lat: 46.78, text: '0.04', level: 0.04 },
  { lon: -99.1, lat: 47.99, text: '0.06', level: 0.06 }, { lon: -99.1, lat: 47.65, text: '0.08', level: 0.08 },
  { lon: -100.5, lat: 47.25, text: '0.06', level: 0.06 }, { lon: -98.98, lat: 43.52, text: '0.02', level: 0.02 },
  { lon: -97.8, lat: 43.2, text: '0.04', level: 0.04 }, { lon: -91.8, lat: 47.95, text: '0.06', level: 0.06 },
  { lon: -92.97, lat: 48.48, text: '0.02', level: 0.02 }, { lon: -91.85, lat: 47.55, text: '0.02', level: 0.02 },
]

// h1=1.5
const CONTOURS_H15: Contour[] = [
  { level: 0.02, pts: [[-96.63, 46.52], [-96.77, 47.0], [-96.89, 47.64], [-97.22, 48.23], [-97.57, 48.47], [-98.75, 48.47], [-99.69, 48.29], [-100.52, 48.0], [-100.99, 48.29], [-101.58, 48.7], [-102.11, 48.59], [-102.29, 48.55], [-102.76, 48.97], [-103.41, 48.97], [-103.94, 48.53], [-103.82, 47.58], [-103.7, 47.0], [-103.11, 46.17], [-102.52, 45.82], [-101.93, 45.99], [-101.34, 46.23], [-100.52, 46.17], [-99.22, 46.46], [-98.4, 46.52], [-98.1, 46.05], [-97.45, 45.88], [-96.74, 45.94], [-96.6, 46.29]] },
  { level: 0.02, pts: [[-98.81, 43.03], [-99.81, 43.81], [-100.4, 44.23], [-100.99, 44.35], [-101.7, 44.23], [-102.4, 44.52], [-103.23, 44.99], [-103.7, 45.13], [-104.4, 45.17], [-104.63, 42.05], [-98.74, 42.05]] },
  { level: 0.02, pts: [[-94.03, 48.64], [-93.56, 48.17], [-93.44, 47.53], [-93.74, 47.0], [-94.39, 46.7], [-95.09, 46.76], [-95.45, 47.11], [-95.66, 47.5], [-95.62, 48.17], [-95.15, 48.7], [-94.8, 48.76]] },
  { level: 0.02, pts: [[-91.26, 47.41], [-92.15, 47.53], [-92.5, 48.0], [-92.68, 48.47], [-92.68, 49.11], [-89.32, 49.11], [-89.32, 48.05], [-90.73, 47.41]] },
  { level: 0.04, pts: [[-97.9, 47.68], [-98.16, 48.0], [-99.1, 48.12], [-99.81, 48.0], [-100.52, 47.7], [-100.99, 47.7], [-101.58, 48.0], [-102.05, 47.82], [-102.35, 47.11], [-102.82, 46.88], [-102.52, 46.52], [-102.29, 46.52], [-101.93, 46.82], [-101.34, 46.88], [-100.52, 46.52], [-99.69, 46.88], [-98.81, 46.88], [-98.28, 47.17], [-97.98, 47.41]] },
  { level: 0.04, pts: [[-97.37, 46.88], [-97.18, 46.64], [-97.37, 46.43], [-97.55, 46.64]] },
  { level: 0.04, pts: [[-99.93, 43.03], [-100.4, 43.58], [-101.34, 43.76], [-101.93, 44.05], [-103.23, 44.52], [-104.06, 44.66], [-104.4, 44.64], [-104.63, 42.17], [-100.15, 42.17]] },
  { level: 0.04, pts: [[-94.62, 47.97], [-94.29, 47.68], [-94.62, 47.41], [-95.0, 47.68]] },
  { level: 0.06, pts: [[-98.49, 47.58], [-98.81, 47.87], [-99.46, 47.94], [-100.16, 47.29], [-99.69, 47.17], [-98.87, 47.29]] },
  { level: 0.06, pts: [[-100.28, 47.23], [-100.52, 46.91], [-100.81, 46.88], [-101.05, 47.11], [-100.81, 47.25]] },
  { level: 0.06, pts: [[-101.4, 43.03], [-101.87, 43.46], [-102.88, 43.87], [-103.47, 43.81], [-103.64, 43.03], [-102.75, 42.28]] },
  { level: 0.08, pts: [[-98.99, 47.61], [-99.22, 47.37], [-99.58, 47.52], [-99.4, 47.7]] },
  { level: 0.08, pts: [[-102.11, 43.03], [-102.52, 43.34], [-102.88, 43.46], [-103.25, 43.23], [-103.29, 43.03], [-102.87, 42.52]] },
  { level: 0.1, pts: [[-102.46, 43.03], [-102.88, 43.22], [-103.05, 43.03], [-102.87, 42.76]] },
]
const LABELS_H15: CLabel[] = [
  { lon: -99.1, lat: 48.45, text: '0.02', level: 0.02 }, { lon: -99.1, lat: 47.98, text: '0.06', level: 0.06 },
  { lon: -99.1, lat: 47.6, text: '0.08', level: 0.08 }, { lon: -99.05, lat: 46.85, text: '0.04', level: 0.04 },
  { lon: -100.63, lat: 47.25, text: '0.06', level: 0.06 }, { lon: -101.5, lat: 43.7, text: '0.04', level: 0.04 },
  { lon: -102.9, lat: 43.85, text: '0.06', level: 0.06 }, { lon: -102.85, lat: 43.47, text: '0.08', level: 0.08 },
  { lon: -94.45, lat: 46.72, text: '0.02', level: 0.02 }, { lon: -94.62, lat: 47.42, text: '0.04', level: 0.04 },
  { lon: -91.9, lat: 47.48, text: '0.02', level: 0.02 },
]

const PANELS = [
  { left: 0, top: 0, h1: '1', contours: CONTOURS_H1, labels: LABELS_H1, river: RIVER_BANDS, barHi: 0.2487, barLo: 0, barTicks: [0, 0.05, 0.1, 0.15, 0.2], barLeft: 59, barWidth: 286.5 },
  { left: 441, top: 0, h1: '2', contours: CONTOURS_H2, labels: LABELS_H2, river: [RIVER_02, ...RIVER_BANDS], barHi: 0.2354, barLo: -0.0007, barTicks: [0.05, 0.1, 0.15, 0.2], barLeft: 58.7, barWidth: 287 },
  { left: 0, top: 693, h1: '0.5', contours: CONTOURS_H05, labels: LABELS_H05, river: RIVER_BANDS, barHi: 0.2487, barLo: 0, barTicks: [0, 0.05, 0.1, 0.15, 0.2], barLeft: 59, barWidth: 286.5 },
  { left: 441, top: 693, h1: '1.5', contours: CONTOURS_H15, labels: LABELS_H15, river: [RIVER_02, ...RIVER_BANDS], barHi: 0.2466, barLo: 0, barTicks: [0, 0.05, 0.1, 0.15, 0.2], barLeft: 59, barWidth: 286.7 },
]

const FONT = '"Liberation Sans", Arial, sans-serif'
const noShape = () => null
const rows = (pts: Pt[]) => pts.map(([lon, lat]) => ({ lon, lat }))
const colorFor = (level: number) => COLORS[Math.min(63, Math.floor((level / 0.2487) * 64) + 2)]
const labelBack = (level: number) => COLORS[Math.max(0, Math.floor((level / 0.2487) * 64))]

// closed smooth path through the scaled points
function closedPath(p: { x: number; y: number }[]) {
  const n = p.length
  let d = `M${p[0].x},${p[0].y}`
  for (let i = 0; i < n; i++) {
    const a = p[(i - 1 + n) % n]
    const b = p[i]
    const c = p[(i + 1) % n]
    const e = p[(i + 2) % n]
    d += `C${b.x + (c.x - a.x) / 6},${b.y + (c.y - a.y) / 6} ${c.x - (e.x - b.x) / 6},${c.y - (e.y - b.y) / 6} ${c.x},${c.y}`
  }
  return d + 'Z'
}

function Panel({ panel, id }: { panel: (typeof PANELS)[number]; id: string }) {
  const layers: Contour[] = [HALO_N, HALO_IA, ...panel.contours]
  const lined = [...panel.contours, ...panel.river].filter((c) => !c.fillOnly)
  const clip = `url(#clip-${id})`
  return (
    <div style={{ position: 'absolute', left: panel.left, top: panel.top }}>
      <ScatterChart width={422} height={669} margin={{ top: 69, right: 31, bottom: 20, left: 43 }}>
        <XAxis
          type="number"
          dataKey="lat"
          domain={LAT_DOMAIN}
          reversed
          ticks={LAT_TICKS}
          interval={0}
          height={40}
          tickSize={6}
          stroke="#000"
          tick={({ x, y, payload }: any) => (
            <text x={x} y={y + 9} transform={`rotate(180 ${x} ${y + 9})`} textAnchor="middle" dominantBaseline="central" fontSize={9.6} fontFamily={FONT} fill="#000">
              {payload.value}
            </text>
          )}
        />
        <YAxis
          type="number"
          dataKey="lon"
          domain={LON_DOMAIN}
          orientation="right"
          ticks={LON_TICKS}
          interval={0}
          width={30}
          tickSize={6}
          stroke="#000"
          tick={({ x, y, payload }: any) => (
            <text x={x + 9} y={y} transform={`rotate(-90 ${x + 9} ${y})`} textAnchor="middle" dominantBaseline="central" fontSize={9.6} fontFamily={FONT} fill="#000">
              {String(payload.value).replace('-', '\u2212')}
            </text>
          )}
        />
        <ReferenceArea x1={LAT_DOMAIN[0]} x2={LAT_DOMAIN[1]} y1={LON_DOMAIN[0]} y2={LON_DOMAIN[1]} fill="none" stroke="#000" strokeWidth={1} />

        {/* base fill, also defines the clip and the blurs */}
        <Scatter
          data={rows(REGION)}
          shape={noShape}
          isAnimationActive={false}
          line={(p: any) => {
            const d = 'M' + p.points.map((q: any) => `${q.x},${q.y}`).join('L') + 'Z'
            return (
              <g>
                <defs>
                  <clipPath id={`clip-${id}`}>
                    <path d={d} />
                  </clipPath>
                  <filter id={`soft-${id}`} x="-60%" y="-60%" width="220%" height="220%">
                    <feGaussianBlur stdDeviation="3.2" />
                  </filter>
                  <filter id={`tight-${id}`} x="-60%" y="-60%" width="220%" height="220%">
                    <feGaussianBlur stdDeviation="1.5" />
                  </filter>
                </defs>
                <path d={d} fill={COLORS[0]} />
              </g>
            )
          }}
        />

        {layers.map((c, i) => (
          <Scatter
            key={`f${i}`}
            data={rows(c.pts)}
            shape={noShape}
            isAnimationActive={false}
            line={(p: any) => (
              <g clipPath={clip}>
                <path d={closedPath(p.points)} fill={colorFor(c.level)} filter={`url(#${c.level <= 0.04 ? 'soft' : 'tight'}-${id})`} />
              </g>
            )}
          />
        ))}
        {panel.river.map((c, i) => (
          <Scatter
            key={`r${i}`}
            data={rows(c.pts)}
            shape={noShape}
            isAnimationActive={false}
            line={(p: any) => (
              <g clipPath={clip}>
                <path d={closedPath(p.points)} fill={colorFor(c.level)} />
              </g>
            )}
          />
        ))}
        {lined.map((c, i) => (
          <Scatter
            key={`l${i}`}
            data={rows(c.pts)}
            shape={noShape}
            isAnimationActive={false}
            line={(p: any) => (
              <g clipPath={clip}>
                <path d={closedPath(p.points)} fill="none" stroke="#000" strokeWidth={panel.river.includes(c) ? 0.8 : 1.1} />
              </g>
            )}
          />
        ))}

        <Scatter
          data={panel.labels}
          isAnimationActive={false}
          shape={(p: any) => (
            <g>
              <rect x={p.cx - 2} y={p.cy - 5.5} width={4} height={11} fill={labelBack(p.payload.level)} />
              <text x={p.cx} y={p.cy} transform={`rotate(-90 ${p.cx} ${p.cy})`} textAnchor="middle" dominantBaseline="central" fontSize={5} fontFamily={FONT} fill="#00104A">
                {p.payload.text}
              </text>
            </g>
          )}
        />

        {THIN_LINES.map((l, i) => (
          <Scatter key={`t${i}`} data={rows(l)} shape={noShape} isAnimationActive={false} line={{ stroke: '#111', strokeWidth: 1 }} lineJointType="linear" />
        ))}
        {STATE_LINES.map((l, i) => (
          <Scatter key={`s${i}`} data={rows(l)} shape={noShape} isAnimationActive={false} line={{ stroke: '#000', strokeWidth: 1.3 }} lineJointType="linear" />
        ))}
        <Scatter data={rows(REGION)} shape={noShape} isAnimationActive={false} line={{ stroke: '#000', strokeWidth: 1.3 }} lineJointType="linear" />

        <text x={23} y={340} transform="rotate(-90 23 340)" textAnchor="middle" fontSize={10.9} fontFamily={FONT} fill="#000" style={{ wordSpacing: 1 }}>
          Smoothed intensity function using partially grouped data with biweight function h
          <tspan dy={2} fontSize={7.8}>1</tspan>
          <tspan dy={-2}>={panel.h1} h</tspan>
          <tspan dy={2} fontSize={7.8}>2</tspan>
          <tspan dy={-2}>=1</tspan>
        </text>
        <text x={402} y={339} transform="rotate(-90 402 339)" textAnchor="middle" dominantBaseline="central" fontSize={9.4} fontFamily={FONT} fill="#000">
          latitude
        </text>
        <text x={202} y={648} transform="rotate(180 202 648)" textAnchor="middle" dominantBaseline="central" fontSize={9.4} fontFamily={FONT} fill="#000">
          longitude
        </text>
      </ScatterChart>

      <div style={{ position: 'absolute', left: 0, top: 0 }}>
        <ScatterChart
          width={422}
          height={60}
          margin={{ top: 10.7, right: 422 - panel.barLeft - panel.barWidth, bottom: 8.3, left: panel.barLeft }}
        >
          <XAxis
            type="number"
            dataKey="v"
            orientation="top"
            domain={[panel.barLo, panel.barHi]}
            reversed
            ticks={panel.barTicks}
            interval={0}
            height={30}
            tickSize={6}
            stroke="#000"
            tick={({ x, y, payload }: any) => (
              <text x={x} y={y - 10} transform={`rotate(-90 ${x} ${y - 10})`} textAnchor="middle" dominantBaseline="central" fontSize={9.6} fontFamily={FONT} fill="#000">
                {payload.value.toFixed(2)}
              </text>
            )}
          />
          <YAxis type="number" dataKey="y" domain={[0, 1]} hide />
          <Scatter
            isAnimationActive={false}
            data={COLORS.map((color, i) => ({ v: panel.barLo + ((i + 0.5) / COLORS.length) * (panel.barHi - panel.barLo), y: 0.5, color }))}
            shape={(p: any) => <rect x={p.cx - 2.3} y={p.cy - 5.5} width={4.6} height={11} fill={p.payload.color} />}
          />
          <Scatter
            isAnimationActive={false}
            shape={noShape}
            data={[
              { v: panel.barLo, y: 0 },
              { v: panel.barHi, y: 0 },
              { v: panel.barHi, y: 1 },
              { v: panel.barLo, y: 1 },
              { v: panel.barLo, y: 0 },
            ]}
            line={{ stroke: '#000', strokeWidth: 1 }}
            lineJointType="linear"
          />
        </ScatterChart>
      </div>
    </div>
  )
}

export default function App() {
  return (
    <div style={{ position: 'absolute', left: 0, top: 0, width: 844, height: 1349, background: '#fff' }}>
      {PANELS.map((panel, i) => (
        <Panel key={i} panel={panel} id={`p${i}`} />
      ))}
    </div>
  )
}
